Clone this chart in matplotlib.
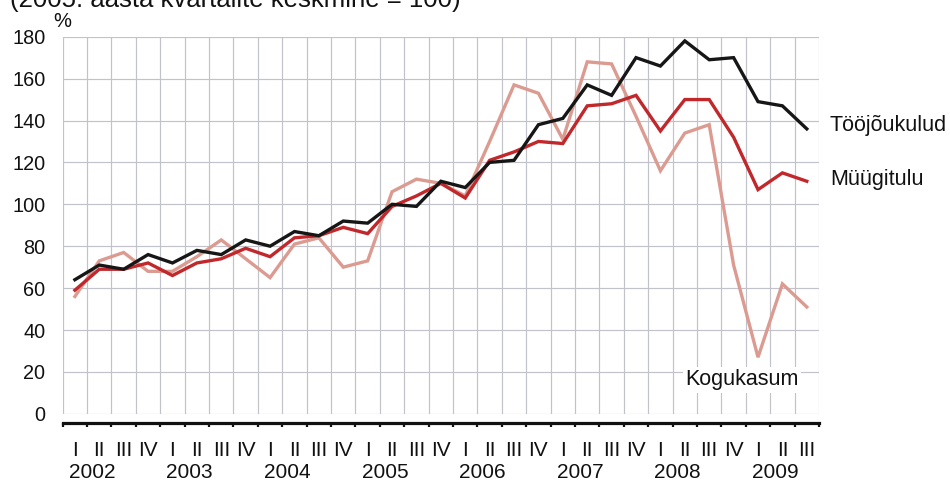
import matplotlib
matplotlib.use("Agg")
import matplotlib.pyplot as plt
import numpy as np

plt.rcParams['font.family'] = ['Liberation Sans', 'DejaVu Sans']

quarters = ["I", "II", "III", "IV"] * 7 + ["I", "II", "III"]
years = ["2002", "2003", "2004", "2005", "2006", "2007", "2008", "2009"]

toojoukulud = [64, 71, 69, 76, 72, 78, 76, 83, 80, 87, 85, 92, 91, 100, 99, 111,
               108, 120, 121, 138, 141, 157, 152, 170, 166, 178, 169, 170, 149, 147, 136]
muugitulu = [59, 69, 69, 72, 66, 72, 74, 79, 75, 84, 85, 89, 86, 99, 104, 110,
             103, 121, 125, 130, 129, 147, 148, 152, 135, 150, 150, 132, 107, 115, 111]
kogukasum = [56, 73, 77, 68, 68, 75, 83, 74, 65, 81, 84, 70, 73, 106, 112, 110,
             104, 130, 157, 153, 131, 168, 167, 142, 116, 134, 138, 71, 27, 62, 51]

W, H = 950, 482
fig = plt.figure(figsize=(W / 100, H / 100), dpi=100)
L, R, T, B = 62.7, 819, 36.7, 413.8
ax = fig.add_axes([L / W, 1 - B / H, (R - L) / W, (B - T) / H])

x = np.arange(len(quarters))
grid_c = "#c2c2ca"
ax.set_xlim(-0.5, len(quarters) - 0.5)
ax.set_ylim(0, 180)

for v in range(0, 181, 20):
    ax.axhline(v, color=grid_c, lw=0.85, zorder=1)
for b in np.arange(-0.5, len(quarters), 1.0):
    ax.axvline(b, color=grid_c, lw=0.85, zorder=1)

ax.plot(x, kogukasum, color="#dc9b91", lw=2.4, zorder=3, solid_joinstyle="miter")
ax.plot(x, muugitulu, color="#c0282c", lw=2.4, zorder=4, solid_joinstyle="miter")
ax.plot(x, toojoukulud, color="#161616", lw=2.4, zorder=5, solid_joinstyle="miter")

for s in ["top", "right", "left"]:
    ax.spines[s].set_visible(False)
ax.spines["bottom"].set_position(("outward", 6.5))
ax.spines["bottom"].set_linewidth(2.3)
ax.spines["bottom"].set_color("#111111")

ax.set_yticks(range(0, 181, 20))
ax.tick_params(axis="y", length=0, pad=12.5, labelsize=14.3, colors="#111111")
ax.set_xticks(np.arange(-0.5, len(quarters), 1.0))
ax.set_xticklabels([])
ax.tick_params(axis="x", length=3.2, width=1.6, direction="out", colors="#111111")

trans_x = matplotlib.transforms.blended_transform_factory(ax.transData, fig.transFigure)
for i, q in enumerate(quarters):
    ax.text(i, 1 - 456.5 / H, q, transform=trans_x, ha="center", va="baseline",
            fontsize=15, color="#111111")
for k, yr in enumerate(years):
    ax.text(4 * k + 0.71, 1 - 478.5 / H, yr, transform=trans_x, ha="center", va="baseline",
            fontsize=15, color="#111111")

fig.text(10 / W, 1 - 7.3 / H, "(2005. aasta kvartalite keskmine = 100)", ha="left",
         va="baseline", fontsize=18.5, color="#111111")
fig.text(53 / W, 1 - 27 / H, "%", ha="left", va="baseline", fontsize=14.5, color="#111111")
fig.text(830 / W, 1 - 131 / H, "Tööjõukulud", ha="left", va="baseline", fontsize=15.5,
         color="#111111")
fig.text(830 / W, 1 - 184.5 / H, "Müügitulu", ha="left", va="baseline", fontsize=15.5,
         color="#111111")
fig.text(685 / W, 1 - 385.5 / H, "Kogukasum", ha="left", va="baseline", fontsize=15.5,
         color="#111111", zorder=10,
         bbox=dict(facecolor="white", edgecolor="none", pad=1.5))

fig.savefig("out.png", dpi=100)
